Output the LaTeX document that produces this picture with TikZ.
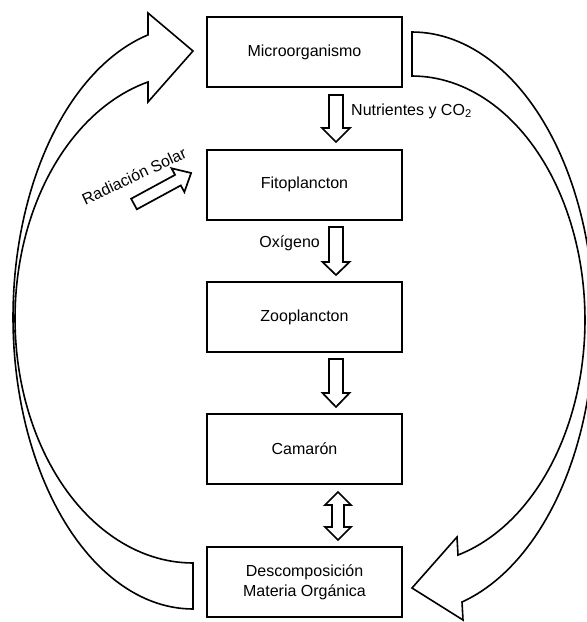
\documentclass[tikz,border=0pt]{standalone}
\usepackage{fontspec}
\setmainfont{Liberation Sans}
\begin{document}
\begin{tikzpicture}[x=1pt,y=-1pt,
  box/.style={draw, line width=2pt, minimum width=195pt, minimum height=70pt, inner sep=0pt, align=center, font=\fontsize{16}{20}\selectfont},
  lbl/.style={inner sep=0pt, font=\fontsize{16}{19}\selectfont},
  blockarrow/.style={draw, line width=1.7pt, line join=miter, fill=white},
  curve/.style={draw, line width=1.6pt, line join=miter}]
\useasboundingbox (0,0) rectangle (587,622);

\node[box] (micro) at (304.5,52) {Microorganismo};
\node[box] (fito) at (304.5,184.5) {Fitoplancton};
\node[box] (zoo) at (304.5,317) {Zooplancton};
\node[box] (cam) at (304.5,449) {Camarón};
\node[box] (desc) at (304.5,582) {Descomposición\\Materia Orgánica};

% Nutrientes arrow
\draw[blockarrow] (329,95) -- (343,95) -- (343,128) -- (350,128) -- (336,142) -- (322,128) -- (329,128) -- cycle;
\node[lbl, anchor=west] (nut) at (351,111) {Nutrientes y CO\textsubscript{2}};

% Oxigeno arrow
\draw[blockarrow] (329,227) -- (343,227) -- (343,262) -- (349.5,262) -- (336,275) -- (322.5,262) -- (329,262) -- cycle;
\node[lbl, anchor=east] (oxi) at (320,243) {Oxígeno};

% Zoo -> Camaron
\draw[blockarrow] (329,359) -- (343,359) -- (343,393) -- (349.5,393) -- (336,407) -- (322.5,393) -- (329,393) -- cycle;

% double arrow
\draw[blockarrow] (338,492) -- (351,505) -- (344,505) -- (344,527) -- (351,527) -- (338,540) -- (325,527) -- (332,527) -- (332,505) -- (325,505) -- cycle;

% Radiacion solar arrow
\begin{scope}[shift={(134,204)}, rotate=28.5]
\draw[blockarrow] (0,-6) -- (50,-6) -- (50,-13.5) -- (65,0) -- (50,13.5) -- (50,6) -- (0,6) -- cycle;
\end{scope}
\node[lbl, rotate=25] (rad) at (134,176) {Radiación Solar};

% left curved arrow (to Microorganismo)
\draw[curve] plot[domain=90:255.36, samples=100] ({193+178*cos(\x)},{318.5+244.5*sin(\x)})
  -- (148,102) -- (193,51) -- (148,13)
  -- plot[domain=255.52:90, samples=100] ({193+180*cos(\x)},{317.3+291.7*sin(\x)}) -- cycle;

% right curved arrow (to Descomposicion)
\draw[curve] plot[domain=-90:74.05, samples=100] ({412+182*cos(\x)},{322.6+290.6*sin(\x)})
  -- (463,620) -- (412,588) -- (457,537)
  -- plot[domain=74.58:-90, samples=100] ({412+173*cos(\x)},{319.9+243.9*sin(\x)}) -- cycle;
\end{tikzpicture}
\end{document}
